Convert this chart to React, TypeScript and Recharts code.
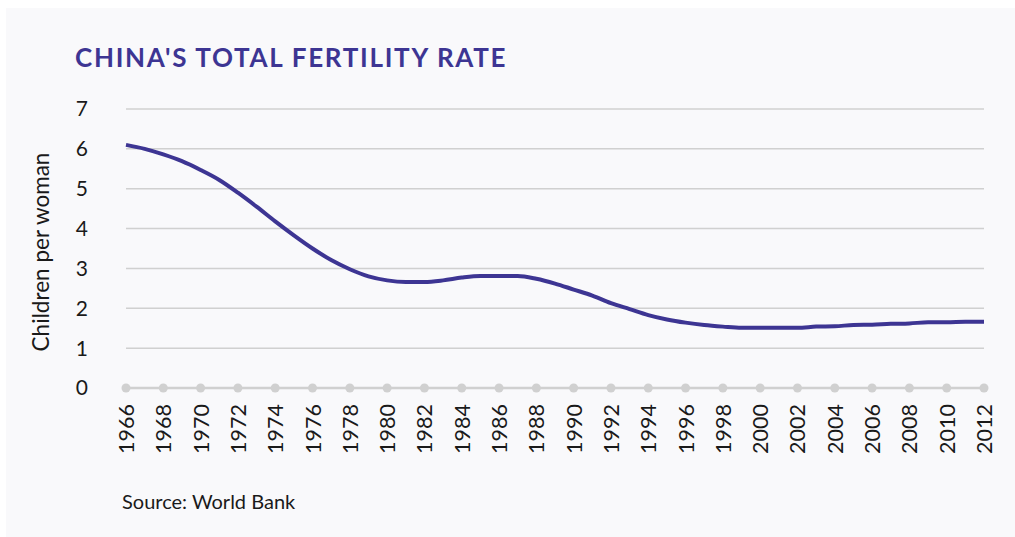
import { LineChart, Line, XAxis, YAxis, CartesianGrid } from 'recharts';

// Total fertility rate, children per woman (World Bank)
const years = [
  1966, 1967, 1968, 1969, 1970, 1971, 1972, 1973, 1974, 1975, 1976, 1977,
  1978, 1979, 1980, 1981, 1982, 1983, 1984, 1985, 1986, 1987, 1988, 1989,
  1990, 1991, 1992, 1993, 1994, 1995, 1996, 1997, 1998, 1999, 2000, 2001,
  2002, 2003, 2004, 2005, 2006, 2007, 2008, 2009, 2010, 2011, 2012,
];
const fertility = [
  6.1, 6.0, 5.86, 5.69, 5.47, 5.22, 4.9, 4.55, 4.18, 3.83, 3.5, 3.21,
  2.98, 2.8, 2.7, 2.66, 2.66, 2.7, 2.77, 2.81, 2.81, 2.81, 2.74, 2.62,
  2.47, 2.32, 2.13, 1.98, 1.83, 1.72, 1.64, 1.58, 1.54, 1.51, 1.51, 1.51,
  1.51, 1.54, 1.55, 1.58, 1.59, 1.61, 1.62, 1.65, 1.65, 1.66, 1.66,
];
const xTicks = years.filter((y) => y % 2 === 0);
const yTicks = [0, 1, 2, 3, 4, 5, 6, 7];

const data = years.map((year, i) => ({ year, value: fertility[i] }));

const FONT = 'Lato, "Noto Sans", sans-serif';
const PURPLE = '#3d3593';
const GREY = '#d0d0d0';

// dot on the axis line plus a rotated year label
function YearTick(props: any) {
  const { x, y, payload } = props;
  return (
    <g>
      <circle cx={x} cy={y} r={4.5} fill={GREY} />
      <text
        x={x}
        y={y + 16}
        transform={`rotate(-90, ${x}, ${y + 16})`}
        textAnchor="end"
        dominantBaseline="central"
        fontSize={21.5}
        fontFamily={FONT}
        fill="#1a1a1a"
      >
        {payload.value}
      </text>
    </g>
  );
}

export default function App() {
  return (
    <div
      style={{
        position: 'absolute',
        left: 6,
        top: 8,
        width: 1009,
        height: 529,
        background: '#f9f9fb',
        fontFamily: FONT,
      }}
    >
      <div
        style={{
          position: 'absolute',
          left: 69,
          top: 33,
          fontSize: 26,
          fontWeight: 700,
          letterSpacing: 1.7,
          color: PURPLE,
        }}
      >
        CHINA'S TOTAL FERTILITY RATE
      </div>

      <div
        style={{
          position: 'absolute',
          left: 34,
          top: 244,
          width: 0,
          height: 0,
        }}
      >
        <div
          style={{
            position: 'absolute',
            transform: 'translate(-50%, -50%) rotate(-90deg)',
            whiteSpace: 'nowrap',
            fontSize: 22.5,
            color: '#1a1a1a',
          }}
        >
          Children per woman
        </div>
      </div>

      <LineChart
        width={1009}
        height={529}
        data={data}
        margin={{ top: 101, right: 31, left: 0, bottom: 89 }}
      >
        <CartesianGrid vertical={false} stroke={GREY} strokeWidth={1.5} />
        <XAxis
          dataKey="year"
          type="number"
          domain={[1966, 2012]}
          ticks={xTicks}
          interval={0}
          height={60}
          tickLine={false}
          tickSize={0}
          tickMargin={0}
          axisLine={{ stroke: GREY, strokeWidth: 2.5 }}
          tick={<YearTick />}
        />
        <YAxis
          domain={[0, 7]}
          ticks={yTicks}
          width={120}
          axisLine={false}
          tickLine={false}
          tickSize={0}
          tickMargin={38}
          tick={{ fontSize: 21, fill: '#1a1a1a', fontFamily: FONT }}
        />
        <Line
          type="monotone"
          dataKey="value"
          stroke={PURPLE}
          strokeWidth={4}
          dot={false}
          isAnimationActive={false}
        />
      </LineChart>

      <div
        style={{
          position: 'absolute',
          left: 116,
          top: 481,
          fontSize: 20,
          color: '#1a1a1a',
        }}
      >
        Source: World Bank
      </div>
    </div>
  );
}
